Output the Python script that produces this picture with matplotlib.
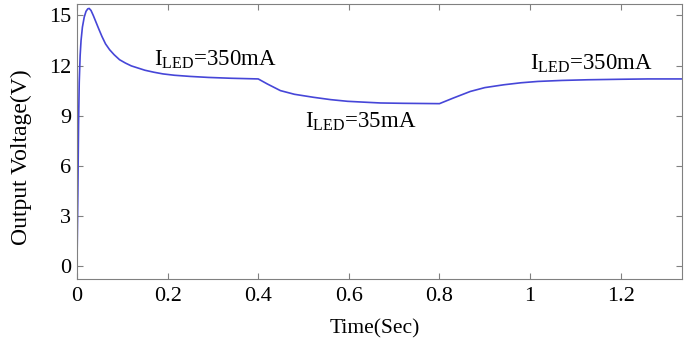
import numpy as np
import matplotlib.pyplot as plt

plt.rcParams['font.family'] = 'Liberation Serif'
plt.rcParams['mathtext.fontset'] = 'custom'
plt.rcParams['mathtext.rm'] = 'Liberation Serif'

# values
time_s = [0.0, 0.002, 0.0035, 0.005, 0.007, 0.009, 0.012, 0.016, 0.02, 0.024, 0.027,
          0.031, 0.036, 0.042, 0.048, 0.055, 0.063, 0.072, 0.082, 0.094, 0.107,
          0.12, 0.135, 0.15, 0.17, 0.19, 0.215, 0.25, 0.29, 0.34, 0.4,
          0.42, 0.449, 0.48, 0.522, 0.56, 0.597, 0.64, 0.67, 0.72, 0.76, 0.8,
          0.83, 0.868, 0.9, 0.942, 0.98, 1.017, 1.07, 1.127, 1.2, 1.26, 1.335]
voltage = [0.0, 4.5, 8.5, 11.0, 12.6, 13.5, 14.3, 14.9, 15.25, 15.4, 15.42,
           15.3, 15.0, 14.6, 14.2, 13.75, 13.3, 12.95, 12.65, 12.35, 12.15,
           11.98, 11.85, 11.72, 11.6, 11.5, 11.42, 11.35, 11.29, 11.24, 11.2,
           10.9, 10.5, 10.28, 10.1, 9.96, 9.86, 9.8, 9.76, 9.74, 9.73, 9.72,
           10.05, 10.45, 10.68, 10.85, 10.97, 11.05, 11.11, 11.15, 11.18, 11.2, 11.2]

labels = [r'I$_{\mathrm{LED}}$=350mA', r'I$_{\mathrm{LED}}$=35mA', r'I$_{\mathrm{LED}}$=350mA']
label_t = [0.305, 0.627, 1.136]
label_v = [12.0, 8.32, 11.8]

fig = plt.figure(figsize=(6.86, 3.42), dpi=100)
ax = fig.add_axes([0.1122, 0.1842, 0.8818, 0.8028])

ax.plot(time_s, voltage, color='#4646d8', lw=1.2)

for txt, t, v in zip(labels, label_t, label_v):
    ax.text(t, v, txt, ha='center', va='baseline', fontsize=16.5)

ax.set_xlim(0, 1.335)
ax.set_ylim(-0.78, 15.66)
ax.set_xticks([0, 0.2, 0.4, 0.6, 0.8, 1, 1.2])
ax.set_xticklabels(['0', '0.2', '0.4', '0.6', '0.8', '1', '1.2'])
ax.set_yticks([0, 3, 6, 9, 12, 15])
ax.tick_params(direction='in', top=True, right=True, length=4, color='#808080',
               labelsize=16)
ax.tick_params(axis='x', pad=6)
ax.tick_params(axis='y', pad=4)
for s in ax.spines.values():
    s.set_color('#808080')

ax.set_xlabel('Time(Sec)', fontsize=15.5)
ax.set_ylabel('Output Voltage(V)', fontsize=17)
ax.xaxis.set_label_coords(0.4926, -0.145)
ax.yaxis.set_label_coords(-0.0744, 0.444)

fig.savefig('out.png', dpi=100)
